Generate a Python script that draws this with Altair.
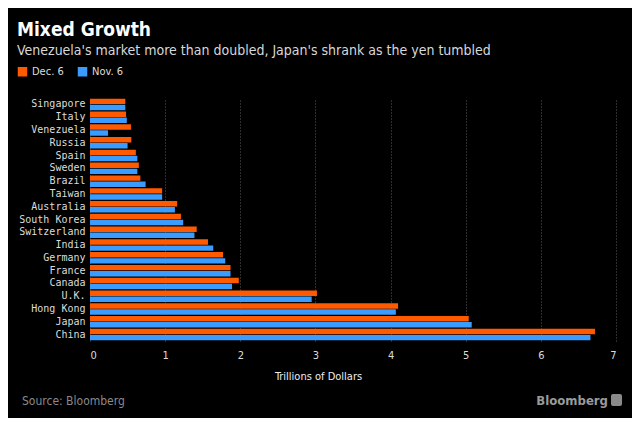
import altair as alt
import pandas as pd

countries = ["Singapore", "Italy", "Venezuela", "Russia", "Spain", "Sweden", "Brazil",
             "Taiwan", "Australia", "South Korea", "Switzerland", "India", "Germany",
             "France", "Canada", "U.K.", "Hong Kong", "Japan", "China"]
dec6 = [0.47, 0.48, 0.545, 0.55, 0.61, 0.65, 0.67, 0.96, 1.16, 1.21, 1.42, 1.57, 1.77,
        1.87, 1.98, 3.02, 4.10, 5.04, 6.72]
nov6 = [0.47, 0.49, 0.24, 0.50, 0.63, 0.63, 0.74, 0.96, 1.13, 1.24, 1.39, 1.64, 1.80,
        1.87, 1.89, 2.95, 4.07, 5.08, 6.66]
series = ["Dec. 6", "Nov. 6"]
colors = ["#ff5a00", "#3a9cff"]
x_ticks = [0, 1, 2, 3, 4, 5, 6, 7]

rows = []
for c, d, n in zip(countries, dec6, nov6):
    rows.append({"country": c, "series": series[0], "value": d})
    rows.append({"country": c, "series": series[1], "value": n})
df = pd.DataFrame(rows)

SANS = "'DejaVu Sans Condensed', 'DejaVu Sans'"
MONO = "DejaVu Sans Mono"

bars = alt.Chart(df).mark_bar(cornerRadius=0).encode(
    x=alt.X("value:Q",
            scale=alt.Scale(domain=[0, 7], nice=False, zero=True),
            axis=alt.Axis(values=x_ticks, format="d", title="Trillions of Dollars",
                          titleX=228, titleY=29, titleAnchor="middle",
                          titleColor="#eeeeee", titleFontSize=11, titleFontWeight="normal",
                          titleFont=SANS,
                          labelFont=SANS, labelFontSize=11, labelColor="#dddddd",
                          labelPadding=8, ticks=False, domain=False,
                          grid=True, gridColor="#5a5a5a", gridDash=[1, 2], gridWidth=1)),
    y=alt.Y("country:N", sort=countries,
            scale=alt.Scale(paddingInner=0.1, paddingOuter=0.05),
            axis=alt.Axis(title=None, labelFont=MONO, labelFontSize=10,
                          labelColor="#dddddd", labelPadding=5, ticks=False,
                          domain=False, grid=False)),
    yOffset=alt.YOffset("series:N", sort=series, scale=alt.Scale(paddingInner=0.1)),
    color=alt.Color("series:N",
                    scale=alt.Scale(domain=series, range=colors),
                    legend=alt.Legend(title=None, orient="none", legendX=-73, legendY=-32,
                                      direction="horizontal", symbolType="square",
                                      symbolSize=90, symbolStrokeWidth=0, symbolOpacity=1,
                                      labelFont=SANS, labelFontSize=11,
                                      labelColor="#dddddd", labelOffset=4,
                                      columnPadding=13)),
)

ann = pd.DataFrame({"dummy": [0]})

title = alt.Chart(ann).mark_text(
    text="Mixed Growth", align="left", baseline="alphabetic", font=SANS,
    fontSize=19, fontWeight="bold", color="#ffffff"
).encode(x=alt.value(-73), y=alt.value(-62))

subtitle = alt.Chart(ann).mark_text(
    text="Venezuela's market more than doubled, Japan's shrank as the yen tumbled",
    align="left", baseline="alphabetic", font=SANS, fontSize=14, color="#d8d8d8"
).encode(x=alt.value(-73), y=alt.value(-43))

source = alt.Chart(ann).mark_text(
    text="Source: Bloomberg", align="left", baseline="alphabetic", font=SANS,
    fontSize=12, color="#8a8a8a"
).encode(x=alt.value(-68), y=alt.value(307))

logo = alt.Chart(ann).mark_text(
    text="Bloomberg", align="right", baseline="alphabetic", font=SANS,
    fontSize=13, fontWeight="bold", color="#9a9a9a"
).encode(x=alt.value(518), y=alt.value(307))

logo_box = alt.Chart(ann).mark_rect(color="#8a8a8a", cornerRadius=2).encode(
    x=alt.value(521), x2=alt.value(532), y=alt.value(296), y2=alt.value(308))

chart = alt.layer(bars, title, subtitle, source, logo, logo_box).properties(
    width=526, height=243,
    background="#000000",
    padding={"left": 82, "top": 90, "right": 16, "bottom": 77},
    autosize=alt.AutoSizeParams(type="none"),
).configure_view(stroke=None)

chart.save("out.html", embed_options={"renderer": "svg", "actions": False})
